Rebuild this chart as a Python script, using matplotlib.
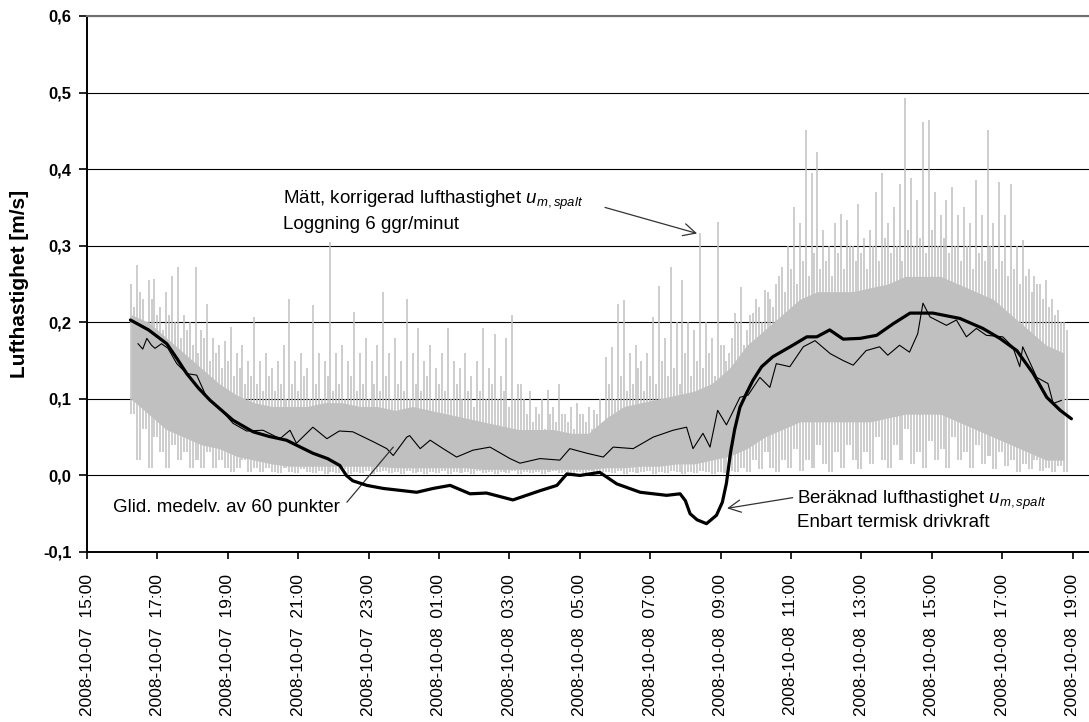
import matplotlib
matplotlib.use('Agg')
import matplotlib.pyplot as plt
import matplotlib.dates as mdates
from matplotlib.ticker import FuncFormatter
import numpy as np
import pandas as pd

plt.rcParams['font.family'] = ['Liberation Sans', 'DejaVu Sans']
plt.rcParams['mathtext.fontset'] = 'custom'
plt.rcParams['mathtext.rm'] = 'Liberation Sans'
plt.rcParams['mathtext.it'] = 'Liberation Sans:italic'

# measured air speed, 10-minute bursts: highest reading, lowest reading, typical upper reading
meas_start = '2008-10-07 16:15'
meas_peak = [
    0.25, 0.275, 0.23, 0.255, 0.257, 0.22, 0.24, 0.26, 0.272, 0.21,
    0.20, 0.272, 0.19, 0.224, 0.18, 0.17, 0.175, 0.194, 0.16, 0.17,
    0.15, 0.207, 0.15, 0.16, 0.14, 0.15, 0.17, 0.231, 0.15, 0.16,
    0.14, 0.222, 0.16, 0.15, 0.305, 0.16, 0.17, 0.15, 0.214, 0.16,
    0.18, 0.15, 0.17, 0.24, 0.16, 0.18, 0.15, 0.231, 0.16, 0.192,
    0.15, 0.17, 0.14, 0.16, 0.192, 0.15, 0.14, 0.16, 0.13, 0.15,
    0.192, 0.14, 0.185, 0.13, 0.18, 0.209, 0.12, 0.10, 0.11, 0.09,
    0.10, 0.111, 0.09, 0.12, 0.08, 0.09, 0.095, 0.08, 0.09, 0.085,
    0.10, 0.155, 0.168, 0.224, 0.229, 0.16, 0.17, 0.15, 0.16, 0.207,
    0.248, 0.18, 0.272, 0.20, 0.255, 0.20, 0.19, 0.316, 0.20, 0.18,
    0.331, 0.17, 0.16, 0.212, 0.246, 0.19, 0.212, 0.22, 0.242, 0.23,
    0.25, 0.272, 0.30, 0.351, 0.33, 0.451, 0.395, 0.423, 0.32, 0.30,
    0.33, 0.342, 0.334, 0.30, 0.355, 0.31, 0.32, 0.37, 0.395, 0.33,
    0.35, 0.38, 0.493, 0.388, 0.36, 0.462, 0.464, 0.37, 0.34, 0.36,
    0.377, 0.34, 0.35, 0.33, 0.386, 0.34, 0.451, 0.33, 0.383, 0.34,
    0.38, 0.30, 0.307, 0.27, 0.26, 0.25, 0.255, 0.23, 0.216, 0.20,
]
meas_dip = [
    0.08, 0.02, 0.06, 0.01, 0.05, 0.03, 0.01, 0.04, 0.02, 0.03,
    0.01, 0.02, 0.01, 0.03, 0.01, 0.02, 0.01, 0.005, 0.01, 0.02,
    0.005, 0.01, 0.005, 0.01, 0.005, 0.003, 0.01, 0.005, 0.003, 0.008,
    0.005, 0.003, 0.006, 0.002, 0.005, 0.003, 0.008, 0.002, 0.005, 0.003,
    0.006, 0.002, 0.004, 0.006, 0.003, 0.005, 0.002, 0.006, 0.003, 0.004,
    0.002, 0.005, 0.003, 0.006, 0.002, 0.004, 0.003, 0.005, 0.002, 0.006,
    0.003, 0.004, 0.002, 0.005, 0.003, 0.006, 0.002, 0.004, 0.003, 0.005,
    0.002, 0.004, 0.006, 0.003, 0.005, 0.002, 0.004, 0.003, 0.006, 0.002,
    0.005, 0.004, 0.003, 0.006, 0.002, 0.005, 0.003, 0.004, 0.006, 0.002,
    0.005, 0.003, 0.006, 0.004, 0.002, 0.005, 0.003, 0.006, 0.004, 0.002,
    0.005, 0.003, 0.006, 0.004, 0.01, 0.005, 0.02, 0.008, 0.03, 0.01,
    0.004, 0.02, 0.01, 0.035, 0.006, 0.02, 0.01, 0.04, 0.015, 0.005,
    0.03, 0.01, 0.04, 0.02, 0.008, 0.03, 0.015, 0.05, 0.02, 0.01,
    0.04, 0.02, 0.06, 0.015, 0.03, 0.01, 0.045, 0.02, 0.035, 0.01,
    0.05, 0.02, 0.03, 0.01, 0.04, 0.015, 0.025, 0.008, 0.03, 0.012,
    0.02, 0.005, 0.015, 0.008, 0.02, 0.006, 0.01, 0.004, 0.012, 0.005,
]
meas_mid = [
    0.22, 0.24, 0.20, 0.23, 0.21, 0.19, 0.21, 0.20, 0.18, 0.19,
    0.17, 0.16, 0.18, 0.15, 0.16, 0.14, 0.15, 0.13, 0.14, 0.12,
    0.13, 0.12, 0.11, 0.13, 0.11, 0.12, 0.10, 0.12, 0.11, 0.13,
    0.10, 0.12, 0.10, 0.13, 0.11, 0.12, 0.10, 0.13, 0.11, 0.12,
    0.10, 0.12, 0.11, 0.13, 0.10, 0.12, 0.11, 0.10, 0.12, 0.11,
    0.13, 0.10, 0.12, 0.11, 0.10, 0.12, 0.10, 0.11, 0.09, 0.11,
    0.10, 0.12, 0.10, 0.11, 0.09, 0.10, 0.12, 0.08, 0.07, 0.08,
    0.06, 0.08, 0.07, 0.08, 0.07, 0.06, 0.08, 0.07, 0.06, 0.08,
    0.07, 0.12, 0.10, 0.13, 0.11, 0.12, 0.14, 0.11, 0.13, 0.12,
    0.15, 0.13, 0.14, 0.12, 0.16, 0.13, 0.15, 0.14, 0.16, 0.13,
    0.17, 0.15, 0.18, 0.20, 0.17, 0.21, 0.23, 0.20, 0.24, 0.22,
    0.26, 0.24, 0.27, 0.25, 0.28, 0.26, 0.29, 0.27, 0.28, 0.26,
    0.29, 0.27, 0.30, 0.28, 0.29, 0.27, 0.30, 0.28, 0.31, 0.29,
    0.30, 0.28, 0.32, 0.30, 0.31, 0.29, 0.32, 0.30, 0.31, 0.29,
    0.30, 0.28, 0.30, 0.27, 0.29, 0.28, 0.30, 0.27, 0.28, 0.26,
    0.27, 0.25, 0.26, 0.24, 0.25, 0.23, 0.22, 0.21, 0.20, 0.19,
]
# dense part of the measured band, every 30 minutes
band_lo = [
    0.10, 0.08, 0.06, 0.05, 0.04, 0.035, 0.025, 0.02, 0.015, 0.012,
    0.012, 0.012, 0.012, 0.012, 0.012, 0.01, 0.01, 0.01, 0.01, 0.01,
    0.008, 0.008, 0.008, 0.008, 0.008, 0.008, 0.008, 0.01, 0.01, 0.012,
    0.012, 0.015, 0.015, 0.02, 0.025, 0.035, 0.05, 0.06, 0.07, 0.07,
    0.07, 0.07, 0.07, 0.075, 0.08, 0.08, 0.08, 0.07, 0.06, 0.05,
    0.04, 0.03, 0.02, 0.02,
]
band_hi = [
    0.21, 0.20, 0.18, 0.16, 0.14, 0.12, 0.105, 0.095, 0.09, 0.09,
    0.09, 0.095, 0.095, 0.09, 0.09, 0.085, 0.09, 0.085, 0.08, 0.075,
    0.07, 0.065, 0.06, 0.06, 0.06, 0.055, 0.055, 0.075, 0.09, 0.095,
    0.10, 0.105, 0.11, 0.12, 0.14, 0.17, 0.19, 0.21, 0.23, 0.24,
    0.24, 0.24, 0.245, 0.25, 0.26, 0.26, 0.26, 0.25, 0.24, 0.23,
    0.21, 0.19, 0.17, 0.16,
]

# moving average over 60 points
avg_time = [
    '07 16:27', '07 16:35', '07 16:42', '07 16:50', '07 16:56', '07 17:07', '07 17:18',
    '07 17:33', '07 17:50', '07 18:07', '07 18:24', '07 18:47', '07 19:09',
    '07 19:32', '07 20:00', '07 20:29', '07 20:46', '07 20:57', '07 21:25',
    '07 21:49', '07 22:10', '07 22:33', '07 23:08', '07 23:31', '07 23:42',
    '08 00:05', '08 00:10', '08 00:28', '08 00:45', '08 01:07', '08 01:30',
    '08 01:58', '08 02:27', '08 03:01', '08 03:18', '08 03:52', '08 04:26',
    '08 04:43', '08 05:12', '08 05:40', '08 05:57', '08 06:31', '08 07:05',
    '08 07:39', '08 08:02', '08 08:13', '08 08:30', '08 08:42', '08 08:55',
    '08 09:10', '08 09:33', '08 09:47', '08 10:07', '08 10:24', '08 10:35',
    '08 10:58', '08 11:21', '08 11:41', '08 12:07', '08 12:29', '08 12:46',
    '08 13:08', '08 13:31', '08 13:45', '08 14:05', '08 14:22', '08 14:36',
    '08 14:45', '08 14:57', '08 15:25', '08 15:42', '08 15:59', '08 16:16',
    '08 16:33', '08 17:01', '08 17:18', '08 17:30', '08 17:35', '08 17:59',
    '08 18:18', '08 18:27', '08 18:41',
]
avg_val = [
    0.172, 0.165, 0.179, 0.17, 0.166, 0.172, 0.166,
    0.146, 0.133, 0.131, 0.102, 0.087, 0.068,
    0.058, 0.059, 0.048, 0.059, 0.042, 0.063,
    0.048, 0.058, 0.057, 0.044, 0.035, 0.026,
    0.050, 0.052, 0.035, 0.046, 0.035, 0.024,
    0.033, 0.037, 0.022, 0.016, 0.022, 0.020,
    0.035, 0.029, 0.024, 0.037, 0.035, 0.050,
    0.059, 0.063, 0.035, 0.055, 0.037, 0.085,
    0.066, 0.102, 0.105, 0.128, 0.115, 0.146,
    0.142, 0.168, 0.176, 0.159, 0.150, 0.144,
    0.163, 0.168, 0.157, 0.170, 0.161, 0.185,
    0.225, 0.207, 0.196, 0.203, 0.181, 0.192,
    0.183, 0.181, 0.168, 0.142, 0.168, 0.128,
    0.120, 0.094, 0.098,
]

# calculated air speed, thermal driving force only
calc_time = [
    '07 16:14', '07 16:45', '07 17:16', '07 17:33', '07 17:50', '07 18:10',
    '07 18:30', '07 19:09', '07 19:43', '07 20:10', '07 20:40', '07 21:25',
    '07 21:50', '07 22:11', '07 22:22', '07 22:33', '07 22:57', '07 23:25',
    '08 00:22', '08 00:50', '08 01:19', '08 01:53', '08 02:21', '08 03:06',
    '08 03:52', '08 04:21', '08 04:38', '08 05:00', '08 05:34', '08 06:03',
    '08 06:43', '08 07:28', '08 07:51', '08 08:00', '08 08:08', '08 08:20',
    '08 08:36', '08 08:53', '08 09:03', '08 09:10', '08 09:17', '08 09:24',
    '08 09:33', '08 09:44', '08 09:55', '08 10:10', '08 10:29', '08 11:03',
    '08 11:27', '08 11:44', '08 12:06', '08 12:29', '08 12:58', '08 13:26',
    '08 13:54', '08 14:23', '08 15:02', '08 15:48', '08 16:27', '08 16:56',
    '08 17:25', '08 17:53', '08 18:16', '08 18:39', '08 18:58',
]
calc_val = [
    0.203, 0.190, 0.172, 0.153, 0.133, 0.114,
    0.098, 0.072, 0.057, 0.051, 0.046, 0.029,
    0.022, 0.013, 0.000, -0.007, -0.013, -0.017,
    -0.022, -0.017, -0.013, -0.024, -0.023, -0.032,
    -0.020, -0.013, 0.002, 0.000, 0.004, -0.011,
    -0.022, -0.026, -0.024, -0.033, -0.050, -0.058,
    -0.063, -0.052, -0.035, -0.010, 0.030, 0.060,
    0.089, 0.107, 0.124, 0.142, 0.155, 0.170,
    0.181, 0.181, 0.190, 0.178, 0.179, 0.183,
    0.198, 0.212, 0.212, 0.205, 0.192, 0.179,
    0.163, 0.133, 0.102, 0.085, 0.074,
]


def stamps(lst):
    return pd.to_datetime(['2008-10-' + s for s in lst])


peak_t = pd.date_range(meas_start, periods=len(meas_peak), freq='10min')
mid_t = peak_t + pd.Timedelta('5min')
band_t = pd.date_range(meas_start, periods=len(band_lo), freq='30min')

fig = plt.figure(figsize=(10.89, 7.22), dpi=100)
ax = fig.add_axes([87 / 1089, 1 - 552 / 722, 1 - 87 / 1089, 536 / 722])

gray = '#c0c0c0'
ax.fill_between(band_t, band_lo, band_hi, color=gray, lw=0, zorder=2)
ax.vlines(peak_t, meas_dip, meas_peak, color=gray, lw=1.1, zorder=2)
ax.vlines(mid_t, meas_dip, meas_mid, color=gray, lw=1.1, zorder=2)
ax.plot(stamps(avg_time), avg_val, color='black', lw=0.8, zorder=3)
ax.plot(stamps(calc_time), calc_val, color='black', lw=2.3, zorder=4,
        solid_joinstyle='round', solid_capstyle='round')

ax.set_ylim(-0.1, 0.6)
ax.set_xlim(pd.Timestamp('2008-10-07 15:00'), pd.Timestamp('2008-10-08 19:28'))
ax.set_yticks(np.arange(-0.1, 0.61, 0.1))
ax.yaxis.set_major_formatter(FuncFormatter(lambda v, p: f'{v:.1f}'.replace('.', ',')))
ax.set_xticks(pd.date_range('2008-10-07 15:00', '2008-10-08 19:00', freq='2h'))
ax.xaxis.set_major_formatter(mdates.DateFormatter('%Y-%m-%d  %H:%M'))

for lab in ax.get_yticklabels():
    lab.set_fontweight('bold')
ax.tick_params(axis='y', direction='out', length=6, width=1.2, labelsize=12, pad=5)
ax.tick_params(axis='x', direction='out', length=5, width=1.2, labelsize=12.5,
               pad=11, labelrotation=90)
ax.set_ylabel('Lufthastighet [m/s]', fontsize=15, fontweight='bold', labelpad=10)

ax.grid(axis='y', color='black', lw=0.8)
ax.set_axisbelow(True)
ax.spines['right'].set_visible(False)
ax.spines['top'].set_color('#707070')
ax.spines['top'].set_linewidth(1.5)
ax.spines['left'].set_linewidth(1.4)
ax.spines['bottom'].set_linewidth(1.4)

d = mdates.date2num
fs = 13.5
ax.text(d(pd.Timestamp('2008-10-07 20:34')), 0.3595,
        'Mätt, korrigerad lufthastighet $u_{m,spalt}$', fontsize=fs, va='center')
ax.text(d(pd.Timestamp('2008-10-07 20:34')), 0.328,
        'Loggning 6 ggr/minut', fontsize=fs, va='center')
ax.annotate('', xy=(d(pd.Timestamp('2008-10-08 08:20')), 0.316),
            xytext=(d(pd.Timestamp('2008-10-08 05:43')), 0.350),
            arrowprops=dict(arrowstyle='->', color='#333333', lw=0.9,
                            mutation_scale=22, shrinkA=0, shrinkB=0))

ax.text(d(pd.Timestamp('2008-10-07 15:44')), -0.042,
        'Glid. medelv. av 60 punkter', fontsize=fs, va='center')
ax.annotate('', xy=(d(pd.Timestamp('2008-10-07 23:42')), 0.037),
            xytext=(d(pd.Timestamp('2008-10-07 22:23')), -0.035),
            arrowprops=dict(arrowstyle='-', color='#333333', lw=0.9,
                            shrinkA=0, shrinkB=0))

ax.text(d(pd.Timestamp('2008-10-08 11:10')), -0.033,
        'Beräknad lufthastighet $u_{m,spalt}$', fontsize=fs, va='center')
ax.text(d(pd.Timestamp('2008-10-08 11:10')), -0.061,
        'Enbart termisk drivkraft', fontsize=fs, va='center')
ax.annotate('', xy=(d(pd.Timestamp('2008-10-08 09:11')), -0.043),
            xytext=(d(pd.Timestamp('2008-10-08 11:03')), -0.029),
            arrowprops=dict(arrowstyle='->', color='#333333', lw=0.9,
                            mutation_scale=22, shrinkA=0, shrinkB=0))

fig.savefig('out.png', dpi=100)
